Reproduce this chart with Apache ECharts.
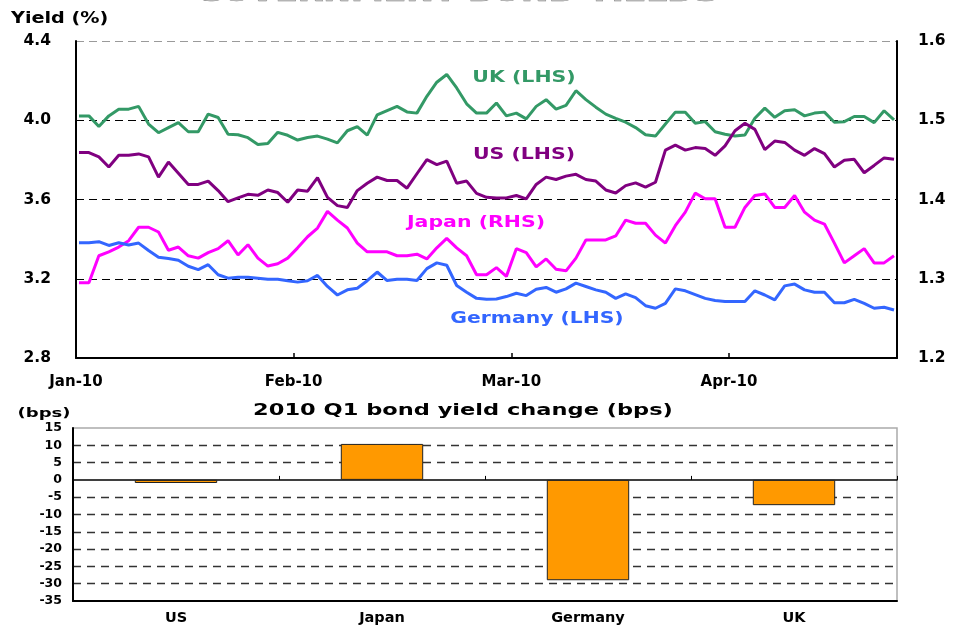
<!DOCTYPE html>
<html>
<head>
<meta charset="utf-8">
<title>Government bond yields</title>
<script src="https://cdn.jsdelivr.net/npm/echarts@6/dist/echarts.min.js"></script>
<style>
  html, body { margin: 0; padding: 0; background: #ffffff; }
  #main { width: 958px; height: 630px; }
</style>
</head>
<body>
<div id="main"></div>
<script>
// ---- Daily 10y yields, Jan to late Apr 2010 (one value per trading day) ----
const monthLabels = ['Jan-10', 'Feb-10', 'Mar-10', 'Apr-10'];
// trading-day position at which each month starts
const monthStarts = [-0.3, 21.6, 43.5, 65.4];

const ukYield = [
  4.022, 4.022, 3.968, 4.022, 4.056, 4.056, 4.070, 3.981, 3.937, 3.963,
  3.988, 3.942, 3.942, 4.031, 4.014, 3.929, 3.927, 3.912, 3.878, 3.883,
  3.939, 3.924, 3.900, 3.913, 3.920, 3.905, 3.886, 3.947, 3.968, 3.925,
  4.027, 4.049, 4.070, 4.042, 4.036, 4.121, 4.192, 4.231, 4.163, 4.083,
  4.036, 4.036, 4.087, 4.022, 4.036, 4.007, 4.070, 4.104, 4.056, 4.075,
  4.149, 4.104, 4.066, 4.031, 4.010, 3.990, 3.963, 3.927, 3.920, 3.981,
  4.041, 4.041, 3.985, 3.993, 3.942, 3.929, 3.920, 3.925, 4.010, 4.061,
  4.015, 4.048, 4.053, 4.022, 4.036, 4.041, 3.990, 3.993, 4.019, 4.019,
  3.988, 4.048, 4.002
];
const usYield = [
  3.837, 3.837, 3.815, 3.764, 3.823, 3.823, 3.830, 3.815, 3.713, 3.789,
  3.733, 3.676, 3.676, 3.693, 3.645, 3.589, 3.608, 3.626, 3.621, 3.648,
  3.635, 3.586, 3.648, 3.642, 3.710, 3.611, 3.569, 3.560, 3.645, 3.682,
  3.713, 3.696, 3.696, 3.657, 3.730, 3.801, 3.776, 3.794, 3.682, 3.693,
  3.631, 3.611, 3.608, 3.608, 3.620, 3.603, 3.676, 3.713, 3.701, 3.718,
  3.727, 3.701, 3.693, 3.648, 3.633, 3.670, 3.684, 3.662, 3.687, 3.849,
  3.874, 3.849, 3.862, 3.857, 3.823, 3.871, 3.947, 3.985, 3.954, 3.852,
  3.895, 3.888, 3.849, 3.823, 3.857, 3.832, 3.764, 3.798, 3.803, 3.735,
  3.772, 3.810, 3.803
];
const japanYield = [
  1.295, 1.295, 1.329, 1.334, 1.340, 1.348, 1.365, 1.365, 1.359, 1.336,
  1.340, 1.329, 1.326, 1.333, 1.338, 1.348, 1.330, 1.343, 1.326, 1.316,
  1.319, 1.326, 1.339, 1.353, 1.364, 1.385, 1.374, 1.364, 1.345, 1.334,
  1.334, 1.334, 1.329, 1.329, 1.331, 1.325, 1.339, 1.351, 1.339, 1.329,
  1.305, 1.305, 1.314, 1.303, 1.338, 1.333, 1.315, 1.325, 1.312, 1.310,
  1.326, 1.349, 1.349, 1.349, 1.354, 1.374, 1.370, 1.370, 1.355, 1.345,
  1.367, 1.384, 1.408, 1.401, 1.401, 1.365, 1.365, 1.390, 1.405, 1.407,
  1.390, 1.390, 1.405, 1.384, 1.374, 1.369, 1.345, 1.320, 1.329, 1.338,
  1.320, 1.320, 1.329
];
const germanyYield = [
  3.382, 3.382, 3.387, 3.368, 3.382, 3.370, 3.380, 3.343, 3.309, 3.302,
  3.293, 3.263, 3.246, 3.271, 3.220, 3.203, 3.208, 3.208, 3.203, 3.197,
  3.197, 3.190, 3.183, 3.190, 3.217, 3.161, 3.118, 3.144, 3.152, 3.190,
  3.234, 3.191, 3.198, 3.198, 3.191, 3.251, 3.280, 3.268, 3.166, 3.132,
  3.101, 3.096, 3.098, 3.110, 3.127, 3.115, 3.147, 3.156, 3.132, 3.149,
  3.178, 3.161, 3.144, 3.132, 3.101, 3.124, 3.105, 3.064, 3.051, 3.076,
  3.149, 3.139, 3.120, 3.101, 3.090, 3.085, 3.085, 3.085, 3.139, 3.118,
  3.093, 3.164, 3.173, 3.144, 3.132, 3.132, 3.079, 3.079, 3.096, 3.076,
  3.051, 3.056, 3.042
];

// ---- 2010 Q1 change, basis points ----
const countries = ['US', 'Japan', 'Germany', 'UK'];
const q1Change = [-0.9, 10.4, -29, -7.3];

// ---- styling ----
const FONT = 'DejaVu Sans';
const ukColor = '#339966';
const usColor = '#800080';
const japanColor = '#ff00ff';
const germanyColor = '#3366ff';
const barColor = '#ff9900';

function indexed(values) {
  return values.map(function (v, i) { return [i, v]; });
}

function monthName(v) {
  let best = 0;
  monthStarts.forEach(function (m, j) {
    if (Math.abs(m - v) < Math.abs(monthStarts[best] - v)) best = j;
  });
  return monthLabels[best];
}

function wideText(text, x, y, opts) {
  return {
    type: 'text',
    x: x,
    y: y,
    scaleX: opts.scaleX || 1,
    silent: true,
    style: {
      text: text,
      fill: opts.color || '#000',
      stroke: opts.stroke,
      lineWidth: opts.lineWidth || 0,
      fontFamily: FONT,
      fontWeight: 'bold',
      fontSize: opts.size,
      align: opts.align || 'center',
      verticalAlign: 'middle',
      textAlign: opts.align || 'center',
      textVerticalAlign: 'middle'
    }
  };
}

const chart = echarts.init(document.getElementById('main'), null, { renderer: 'canvas' });

const dash = [8, 5];

chart.setOption({
  animation: false,
  backgroundColor: '#ffffff',
  grid: [
    { left: 76, right: 61, top: 41, bottom: 272, containLabel: false, outerBoundsMode: 'none' },
    { left: 73, right: 61, top: 428, bottom: 29, containLabel: false, outerBoundsMode: 'none',
      show: true, borderColor: '#aaaaaa', borderWidth: 1.5, backgroundColor: 'transparent' }
  ],
  xAxis: [
    {
      gridIndex: 0,
      type: 'value',
      min: -0.3,
      max: 82.3,
      axisLine: { show: true, onZero: false, lineStyle: { color: '#000', width: 2 } },
      axisTick: { show: true, inside: true, length: 5, customValues: monthStarts,
                  lineStyle: { color: '#000', width: 1.5 } },
      axisLabel: { customValues: monthStarts, formatter: monthName, margin: 17,
                   color: '#000', fontFamily: FONT, fontWeight: 'bold', fontSize: 15 },
      splitLine: { show: false }
    },
    {
      gridIndex: 1,
      type: 'category',
      data: countries,
      position: 'bottom',
      axisLine: { show: true, onZero: false, lineStyle: { color: '#000', width: 2 } },
      axisTick: { show: false },
      axisLabel: { margin: 10, color: '#000', fontFamily: FONT, fontWeight: 'bold', fontSize: 14.5 },
      splitLine: { show: false }
    },
    {
      gridIndex: 1,
      type: 'category',
      data: countries,
      position: 'bottom',
      axisLine: { show: true, onZero: true, lineStyle: { color: '#000', width: 1.5 } },
      axisTick: { show: true, inside: true, length: 4, lineStyle: { color: '#000', width: 1 } },
      axisLabel: { show: false },
      splitLine: { show: false }
    }
  ],
  yAxis: [
    {
      gridIndex: 0,
      type: 'value',
      min: 2.8,
      max: 4.4,
      interval: 0.4,
      axisLine: { show: true, onZero: false, lineStyle: { color: '#000', width: 2 } },
      axisTick: { show: false },
      axisLabel: { margin: 25, formatter: function (v) { return v.toFixed(1); },
                   color: '#000', fontFamily: FONT, fontWeight: 'bold', fontSize: 15.5 },
      splitLine: { show: true, lineStyle: { type: dash, width: 1,
                   color: ['rgba(0,0,0,0)', '#000', '#000', '#000', '#9a9a9a'] } }
    },
    {
      gridIndex: 0,
      type: 'value',
      position: 'right',
      min: 1.2,
      max: 1.6,
      interval: 0.1,
      axisLine: { show: true, onZero: false, lineStyle: { color: '#000', width: 2 } },
      axisTick: { show: false },
      axisLabel: { margin: 21, formatter: function (v) { return v.toFixed(1); },
                   color: '#000', fontFamily: FONT, fontWeight: 'bold', fontSize: 15.5 },
      splitLine: { show: false }
    },
    {
      gridIndex: 1,
      type: 'value',
      min: -35,
      max: 15,
      interval: 5,
      axisLine: { show: true, onZero: false, lineStyle: { color: '#000', width: 2 } },
      axisTick: { show: false },
      axisLabel: { margin: 11, color: '#000', fontFamily: FONT, fontWeight: 'bold', fontSize: 12.5 },
      splitLine: { show: true, lineStyle: { type: [8, 6], width: 1.3,
                   color: ['rgba(0,0,0,0)', '#333', '#333', '#333', '#333', '#333', '#333',
                           'rgba(0,0,0,0)', '#333', '#333', 'rgba(0,0,0,0)'] } }
    }
  ],
  series: [
    { name: 'UK', type: 'line', xAxisIndex: 0, yAxisIndex: 0, data: indexed(ukYield),
      showSymbol: false, lineStyle: { color: ukColor, width: 3 }, itemStyle: { color: ukColor } },
    { name: 'US', type: 'line', xAxisIndex: 0, yAxisIndex: 0, data: indexed(usYield),
      showSymbol: false, lineStyle: { color: usColor, width: 3 }, itemStyle: { color: usColor } },
    { name: 'Japan', type: 'line', xAxisIndex: 0, yAxisIndex: 1, data: indexed(japanYield),
      showSymbol: false, lineStyle: { color: japanColor, width: 3 }, itemStyle: { color: japanColor } },
    { name: 'Germany', type: 'line', xAxisIndex: 0, yAxisIndex: 0, data: indexed(germanyYield),
      showSymbol: false, lineStyle: { color: germanyColor, width: 3 }, itemStyle: { color: germanyColor } },
    { name: 'Q1 change', type: 'bar', xAxisIndex: 1, yAxisIndex: 2, data: q1Change,
      barWidth: '40%',
      itemStyle: { color: barColor, borderColor: '#222', borderWidth: 1 } }
  ],
  graphic: [
    wideText('GOVERNMENT BOND YIELDS', 457, -5, { size: 22, scaleX: 1.5, color: '#b4b4b4', stroke: '#777', lineWidth: 0.6 }),
    wideText('Yield (%)', 11, 19.5, { size: 15, scaleX: 1.28, align: 'left' }),
    wideText('UK (LHS)', 524, 77.5, { size: 16, scaleX: 1.28, color: ukColor }),
    wideText('US (LHS)', 524, 154.5, { size: 16, scaleX: 1.28, color: usColor }),
    wideText('Japan (RHS)', 476, 223, { size: 16, scaleX: 1.28, color: japanColor }),
    wideText('Germany (LHS)', 537, 318.5, { size: 16, scaleX: 1.27, color: germanyColor }),
    wideText('(bps)', 44, 413.5, { size: 12, scaleX: 1.5 }),
    wideText('2010 Q1 bond yield change (bps)', 463, 411, { size: 15, scaleX: 1.5 })
  ]
});
</script>
</body>
</html>
